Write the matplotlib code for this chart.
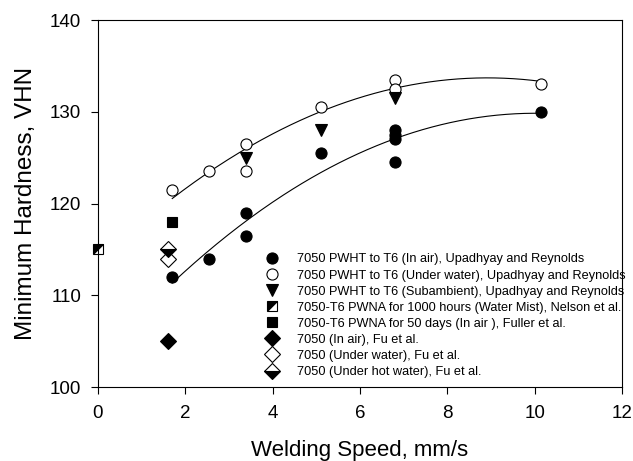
import numpy as np
import matplotlib.pyplot as plt
from matplotlib.markers import MarkerStyle
from matplotlib.transforms import Affine2D

plt.rcParams['font.family'] = ['Liberation Sans', 'DejaVu Sans']

# Upadhyay and Reynolds, PWHT to T6
air_x = [1.7, 2.55, 3.4, 3.4, 5.1, 6.8, 6.8, 6.8, 6.8, 10.15]
air_y = [112, 114, 119, 116.5, 125.5, 128, 127.5, 127, 124.5, 130]
water_x = [1.7, 2.55, 3.4, 3.4, 5.1, 6.8, 6.8, 10.15]
water_y = [121.5, 123.5, 126.5, 123.5, 130.5, 133.5, 132.5, 133]
sub_x = [3.4, 5.1, 6.8]
sub_y = [125, 128, 131.5]

# Nelson et al. / Fuller et al.
mist_x, mist_y = [0.0], [115]
pwna50_x, pwna50_y = [1.7], [118]

# Fu et al.
fu_air_x, fu_air_y = [1.6], [105]
fu_water_x, fu_water_y = [1.6], [114]
fu_hot_x, fu_hot_y = [1.6], [115]

labels = [
    "7050 PWHT to T6 (In air), Upadhyay and Reynolds",
    "7050 PWHT to T6 (Under water), Upadhyay and Reynolds",
    "7050 PWHT to T6 (Subambient), Upadhyay and Reynolds",
    "7050-T6 PWNA for 1000 hours (Water Mist), Nelson et al.",
    "7050-T6 PWNA for 50 days (In air ), Fuller et al.",
    "7050 (In air), Fu et al.",
    "7050 (Under water), Fu et al.",
    "7050 (Under hot water), Fu et al.",
]

fig = plt.figure(figsize=(6.33, 4.61), dpi=100)
ax = fig.add_axes([0.1548, 0.1605, 0.828, 0.796])

ms = 8
kw = dict(linestyle='none', markeredgecolor='black', markersize=ms, markeredgewidth=0.8)

# second-order regression lines through the T6 data
for xs, ys in [(air_x, air_y), (water_x, water_y)]:
    c = np.polyfit(xs, ys, 2)
    xx = np.linspace(min(xs), max(xs), 200)
    ax.plot(xx, np.polyval(c, xx), color='black', lw=0.8, zorder=1)

ax.plot(air_x, air_y, marker='o', color='black', label=labels[0], **kw)
ax.plot(water_x, water_y, marker='o', markerfacecolor='white', label=labels[1], **kw)
ax.plot(sub_x, sub_y, marker='v', color='black', label=labels[2], **kw)
# square split along the diagonal: a diamond half-filled, turned 45 degrees
diag = MarkerStyle('D', fillstyle='top', transform=Affine2D().rotate_deg(45))
ax.plot(mist_x, mist_y, marker=diag, color='black', markerfacecoloralt='white',
        label=labels[3], clip_on=False, linestyle='none', markeredgecolor='black',
        markersize=ms - 1, markeredgewidth=0.8)
ax.plot(pwna50_x, pwna50_y, marker='s', color='black', label=labels[4],
        **{**kw, 'markersize': ms - 1})
ax.plot(fu_air_x, fu_air_y, marker='D', color='black', label=labels[5], **kw)
ax.plot(fu_water_x, fu_water_y, marker='D', markerfacecolor='white', label=labels[6], **kw)
ax.plot(fu_hot_x, fu_hot_y, marker='D', color='black', fillstyle='bottom',
        markerfacecoloralt='white', label=labels[7], **kw)

ax.set_xlim(0, 12)
ax.set_ylim(100, 140)
ax.set_xticks(range(0, 13, 2))
ax.set_yticks(range(100, 141, 10))
ax.tick_params(direction='out', length=5, width=0.8, labelsize=13.5, top=False, right=False)
ax.tick_params(axis='x', pad=8)
ax.tick_params(axis='y', pad=7)
for s in ax.spines.values():
    s.set_linewidth(0.8)

ax.set_xlabel("Welding Speed, mm/s", fontsize=16, labelpad=13)
ax.set_ylabel("Minimum Hardness, VHN", fontsize=17.5, labelpad=9.5)

ax.legend(loc='upper left', bbox_to_anchor=(0.32, 0.364), frameon=False,
          fontsize=9.2, handlelength=1.0, handletextpad=1.45, labelspacing=0.32,
          borderaxespad=0, borderpad=0)

fig.savefig('out.png', dpi=100)
